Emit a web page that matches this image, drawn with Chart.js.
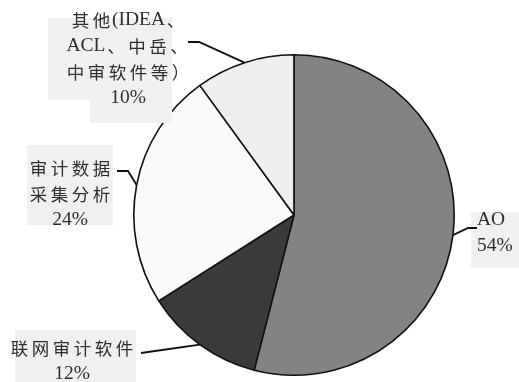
<!DOCTYPE html>
<html>
<head>
<meta charset="utf-8">
<script src="https://cdn.jsdelivr.net/npm/chart.js@4.4.1/dist/chart.umd.min.js"></script>
<style>
html,body{margin:0;padding:0;background:#fff;}
#wrap{width:519px;height:382px;position:relative;}
</style>
</head>
<body>
<div id="wrap"><canvas id="c" width="519" height="382"></canvas></div>
<script>
const categories = ['AO', '联网审计软件', '审计数据采集分析', '其他(IDEA、ACL、中岳、中审软件等）'];
const shares = [54, 12, 24, 10];
const labelLines = [
  ['AO'],
  ['联网审计软件'],
  ['审计数据', '采集分析'],
  ['其他(IDEA、', 'ACL、中岳、', '中审软件等）']
];
const sliceColors = ['#838383', '#3b3b3b', '#fafafa', '#eeeeee'];

// label layout (positions only)
const labelLayout = [
  {x: 477, y: 220, align: 'left', box: [[471, 212, 48, 56]], line: [[477, 228], [468, 228]]},
  {x: 72, y: 348, align: 'center', box: [[15, 330, 121, 52]], line: [[141, 353]]},
  {x: 70, y: 168, align: 'center', box: [[27, 145, 86, 80]], line: [[117, 171], [128, 171]]},
  {x: 128, y: 20, align: 'center', box: [[48, 18, 124, 82], [90, 98, 82, 25]], line: [[188, 42], [199, 42]]}
];

const CJK_FONT = "17.5px 'Noto Sans CJK SC', sans-serif";
const LATIN_FONT = "19.5px 'Liberation Serif', serif";
function isCJK(ch){ return ch.charCodeAt(0) > 0x2E80; }
function drawSpaced(ctx, text, x, y, align){
  const extra = 3.5;
  const chars = Array.from(text);
  const widths = chars.map(ch => {
    ctx.font = isCJK(ch) ? CJK_FONT : LATIN_FONT;
    return ctx.measureText(ch).width + (isCJK(ch) ? extra : 0);
  });
  let total = widths.reduce((a,b)=>a+b,0);
  let start = align === 'center' ? x - total/2 : x;
  ctx.textAlign = 'left';
  chars.forEach((ch,i) => {
    ctx.font = isCJK(ch) ? CJK_FONT : LATIN_FONT;
    ctx.fillText(ch, start + (isCJK(ch) ? extra/2 : 0), y);
    start += widths[i];
  });
}

const labelPlugin = {
  id: 'pieLabels',
  afterDatasetsDraw(chart){
    const ctx = chart.ctx;
    const meta = chart.getDatasetMeta(0);
    ctx.save();
    meta.data.forEach((arc, i) => {
      const p = arc.getProps(['x','y','startAngle','endAngle','outerRadius'], true);
      const mid = (p.startAngle + p.endAngle) / 2;
      const ex = p.x + p.outerRadius * Math.cos(mid);
      const ey = p.y + p.outerRadius * Math.sin(mid);
      const L = labelLayout[i];
      ctx.fillStyle = '#f0f0f0';
      L.box.forEach(b => ctx.fillRect(b[0], b[1], b[2], b[3]));
      ctx.strokeStyle = '#111';
      ctx.lineWidth = 1.8;
      ctx.beginPath();
      ctx.moveTo(L.line[0][0], L.line[0][1]);
      for (let k = 1; k < L.line.length; k++) ctx.lineTo(L.line[k][0], L.line[k][1]);
      ctx.lineTo(ex, ey);
      ctx.stroke();
      const lines = labelLines[i].concat([shares[i] + '%']);
      ctx.fillStyle = '#2e2e2e';
      ctx.textBaseline = 'middle';
      lines.forEach((t, k) => {
        drawSpaced(ctx, t, L.x, L.y + k * 26, L.align);
      });
    });
    ctx.restore();
  }
};

new Chart(document.getElementById('c'), {
  type: 'pie',
  data: {
    labels: categories,
    datasets: [{
      data: shares,
      backgroundColor: sliceColors,
      borderColor: '#111',
      borderWidth: 1.6,
      borderAlign: 'center'
    }]
  },
  options: {
    responsive: false,
    animation: false,
    events: [],
    layout: {padding: {left: 133, right: 64, top: 54, bottom: 6}},
    plugins: {legend: {display: false}, tooltip: {enabled: false}}
  },
  plugins: [labelPlugin]
});
</script>
</body>
</html>
